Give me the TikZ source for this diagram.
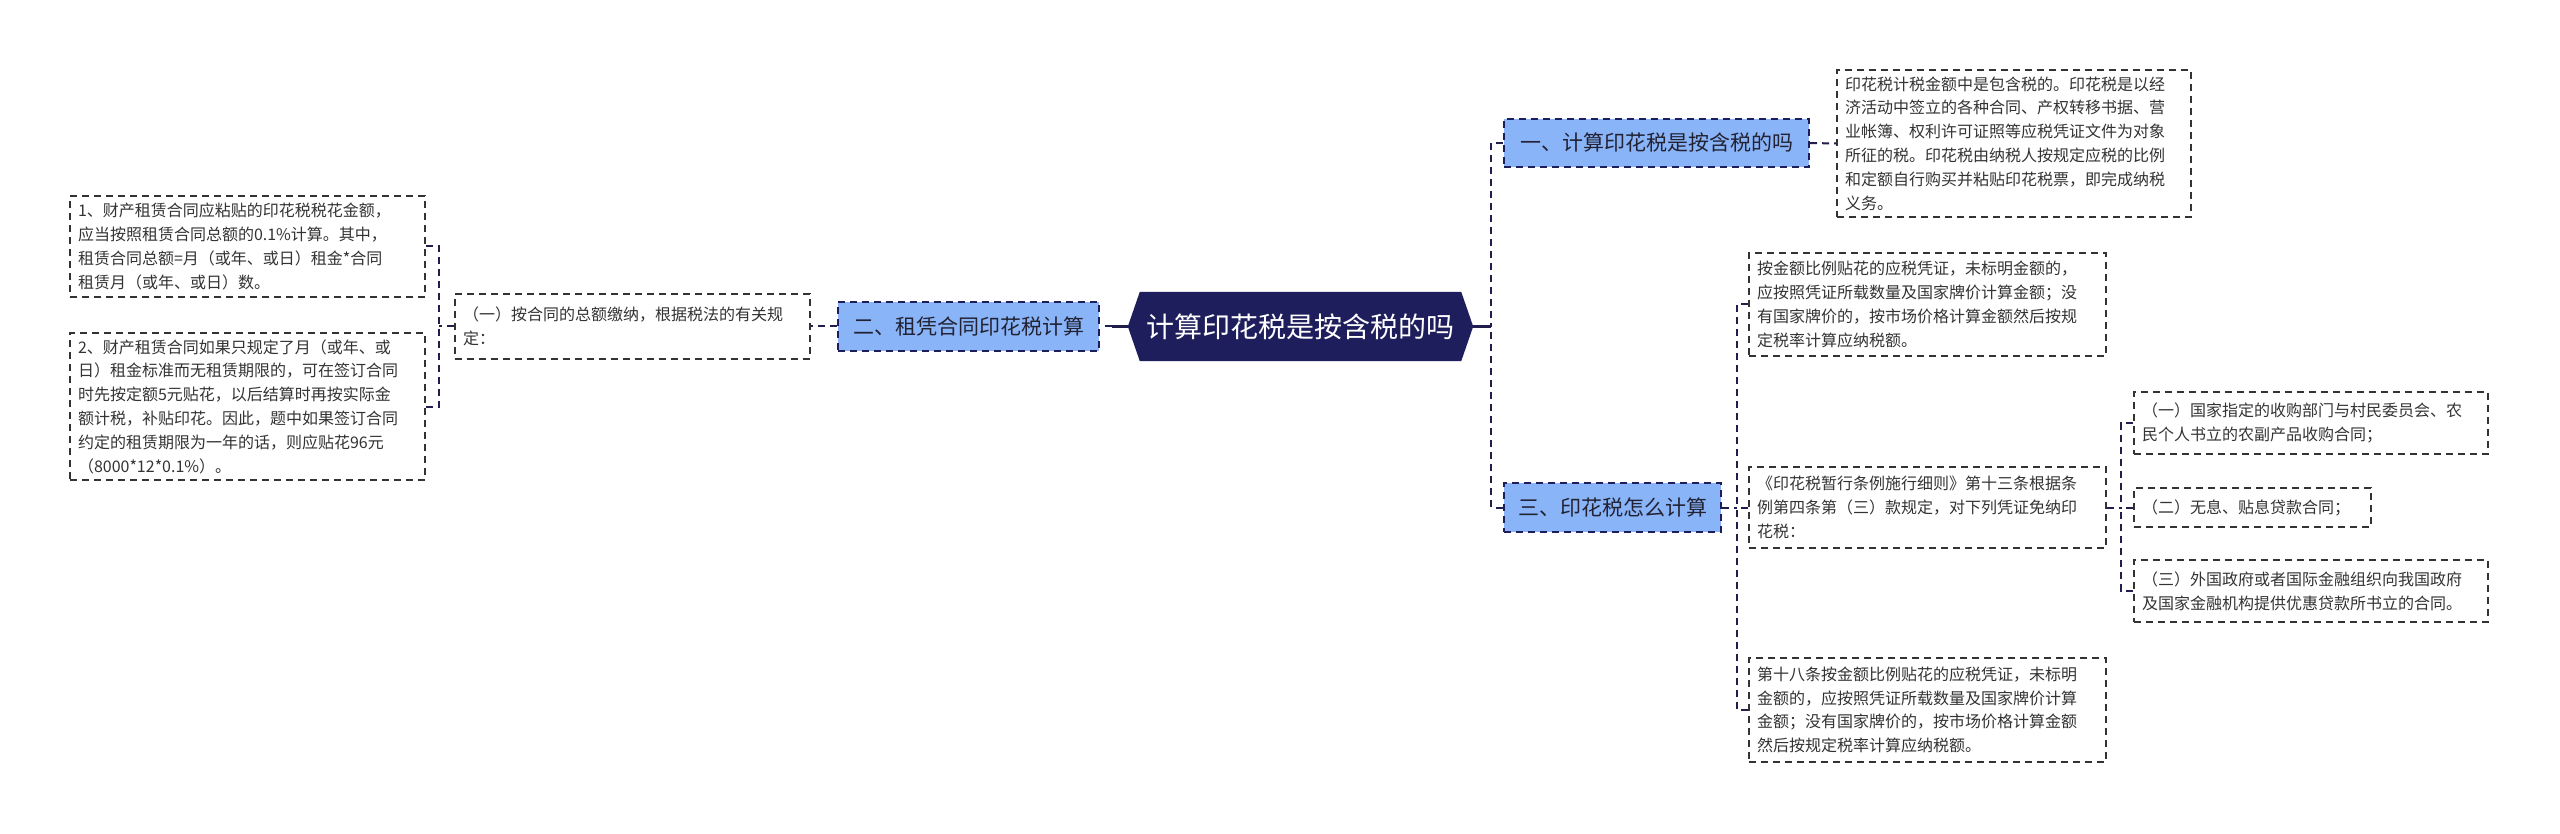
\documentclass[tikz,border=0pt]{standalone}
\usepackage{fontspec}
\setmainfont{Noto Sans CJK SC}
\usetikzlibrary{backgrounds,calc}
\definecolor{navy}{HTML}{1F1E5C}
\definecolor{blu}{HTML}{8AB4F8}
\definecolor{boxc}{HTML}{333333}
\definecolor{txt}{HTML}{333333}
\definecolor{dark}{HTML}{222233}
\definecolor{connc}{HTML}{1F1E4C}
\tikzset{
  tbox/.style={draw=boxc, dash pattern=on 7pt off 5pt, line width=1.8pt, align=left,
    inner xsep=8pt, inner ysep=0pt, font=\fontsize{16}{23.8}\selectfont, text=txt, anchor=center},
  bbox/.style={draw=navy, fill=blu, dash pattern=on 7pt off 5pt, line width=2pt,
    font=\fontsize{21}{25}\selectfont, text=dark, inner sep=0pt, anchor=center},
  dconn/.style={draw=connc, line width=2pt, dash pattern=on 7pt off 5pt},
  sconn/.style={draw=connc, line width=2.4pt},
}
\begin{document}
\begin{tikzpicture}[x=1pt,y=-1pt]
\useasboundingbox (0,0) rectangle (2560,834);

% central node
\node (c) [minimum width=345pt, minimum height=69pt, inner sep=0pt, text=white,
  font=\fontsize{28}{32}\selectfont] at (1300.5,326.5) {计算印花税是按含税的吗};
\begin{scope}[on background layer]
\fill[white] (0,0) rectangle (2560,834);
\fill[navy] ([xshift=12pt]c.north west) -- ([xshift=-12pt]c.north east) -- (c.east)
  -- ([xshift=-12pt]c.south east) -- ([xshift=12pt]c.south west) -- (c.west) -- cycle;
\end{scope}

% branches
\node (b1) [bbox, minimum width=305pt, minimum height=48pt] at (1656.5,143) {一、计算印花税是按含税的吗};
\node (b2) [bbox, minimum width=261pt, minimum height=49pt] at (968.5,326.5) {二、租凭合同印花税计算};
\node (b3) [bbox, minimum width=217pt, minimum height=49pt] at (1612.5,507.5) {三、印花税怎么计算};

% text boxes
\node (t1) [tbox, minimum width=354pt, minimum height=147pt, text width=338pt] at (2014,143.5)
{印花税计税金额中是包含税的。印花税是以经\\济活动中签立的各种合同、产权转移书据、营\\业帐簿、权利许可证照等应税凭证文件为对象\\所征的税。印花税由纳税人按规定应税的比例\\和定额自行购买并粘贴印花税票，即完成纳税\\义务。};

\node (p1) [tbox, minimum width=355pt, minimum height=65pt, text width=339pt] at (632.5,326.5)
{（一）按合同的总额缴纳，根据税法的有关规\\定：};

\node (l1) [tbox, minimum width=355pt, minimum height=101pt, text width=339pt] at (247.5,246.5)
{1、财产租赁合同应粘贴的印花税税花金额，\\应当按照租赁合同总额的0.1\%计算。其中，\\租赁合同总额=月（或年、或日）租金*合同\\租赁月（或年、或日）数。};

\node (l2) [tbox, minimum width=355pt, minimum height=147pt, text width=339pt] at (247.5,406.5)
{2、财产租赁合同如果只规定了月（或年、或\\日）租金标准而无租赁期限的，可在签订合同\\时先按定额5元贴花，以后结算时再按实际金\\额计税，补贴印花。因此，题中如果签订合同\\约定的租赁期限为一年的话，则应贴花96元\\（8000*12*0.1\%）。};

\node (a) [tbox, minimum width=357pt, minimum height=103pt, text width=341pt] at (1927.5,304.5)
{按金额比例贴花的应税凭证，未标明金额的，\\应按照凭证所载数量及国家牌价计算金额；没\\有国家牌价的，按市场价格计算金额然后按规\\定税率计算应纳税额。};

\node (b) [tbox, minimum width=357pt, minimum height=81pt, text width=341pt] at (1927.5,507.5)
{《印花税暂行条例施行细则》第十三条根据条\\例第四条第（三）款规定，对下列凭证免纳印\\花税：};

\node (cc) [tbox, minimum width=357pt, minimum height=104pt, text width=341pt] at (1927.5,710)
{第十八条按金额比例贴花的应税凭证，未标明\\金额的，应按照凭证所载数量及国家牌价计算\\金额；没有国家牌价的，按市场价格计算金额\\然后按规定税率计算应纳税额。};

\node (e1) [tbox, minimum width=354pt, minimum height=62pt, text width=338pt] at (2311,423)
{（一）国家指定的收购部门与村民委员会、农\\民个人书立的农副产品收购合同；};

\node (e2) [tbox, minimum width=237pt, minimum height=39pt, text width=221pt] at (2252.5,507.5)
{（二）无息、贴息贷款合同；};

\node (e3) [tbox, minimum width=354pt, minimum height=62pt, text width=338pt] at (2311,591)
{（三）外国政府或者国际金融组织向我国政府\\及国家金融机构提供优惠贷款所书立的合同。};

% connectors
\draw[sconn] (c.east) -- ++(18,0) coordinate (jr);
\draw[dconn] (b1.west) -| (jr);
\draw[dconn] (b3.west) -| (jr);
\draw[sconn] (c.west) -- ++(-16,0) coordinate (jl);
\draw[dconn] (jl) -- (b2.east);
\draw[dconn] (b2.west) -- (p1.east);
\draw[dconn] (p1.west) -- ++(-15,0) coordinate (jp);
\draw[dconn] (l1.east) -| (jp);
\draw[dconn] (l2.east) -| (jp);
\draw[dconn] (b1.east) -- (t1.west);
\draw[dconn] (b3.east) -- ++(15,0) coordinate (jb);
\draw[dconn] (a.west) -| (jb);
\draw[dconn] (b.west) -| (jb);
\draw[dconn] (cc.west) -| (jb);
\draw[dconn] (b.east) -- ++(14,0) coordinate (je);
\draw[dconn] (e1.west) -| (je);
\draw[dconn] (e2.west) -| (je);
\draw[dconn] (e3.west) -| (je);
\end{tikzpicture}
\end{document}
